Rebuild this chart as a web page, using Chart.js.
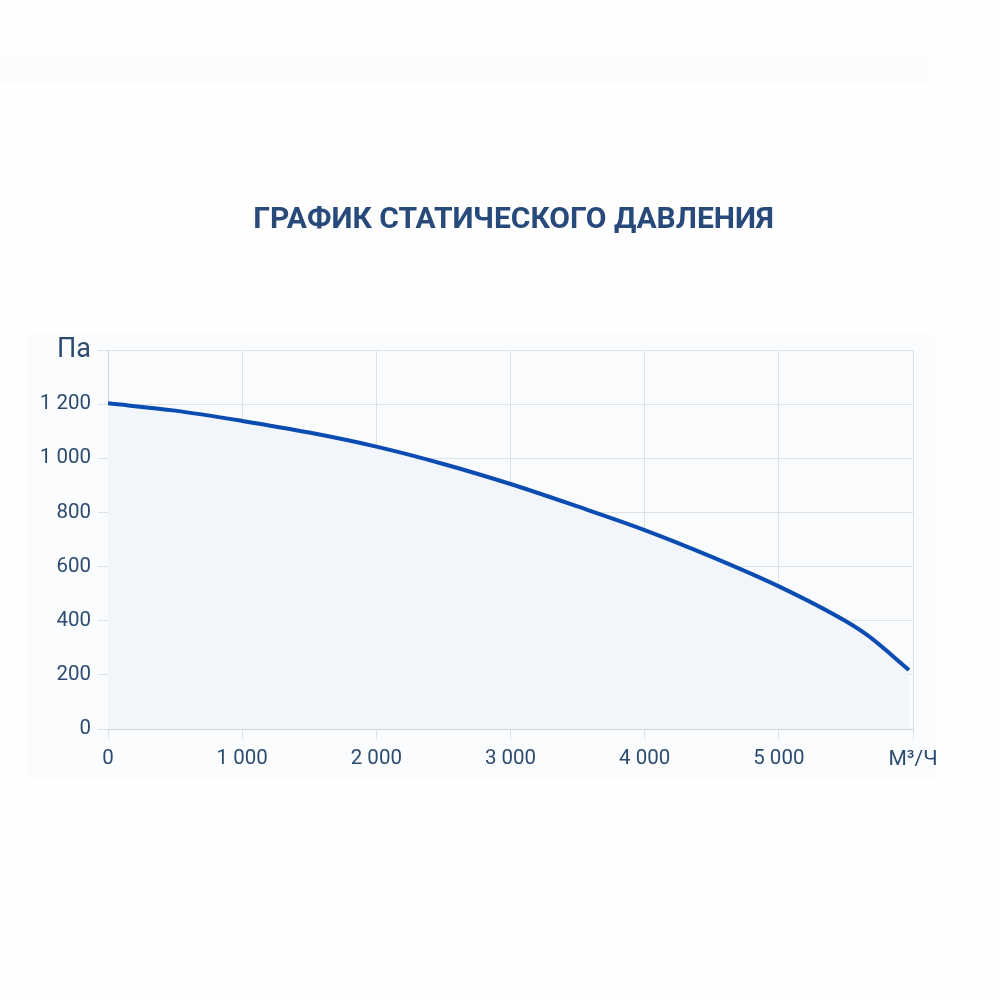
<!DOCTYPE html>
<html><head><meta charset="utf-8">
<script src="https://cdn.jsdelivr.net/npm/chart.js@4/dist/chart.umd.min.js"></script>
<style>
html,body{margin:0;padding:0;background:#fefefe;}
#wrap{position:relative;width:1000px;height:1000px;}
#band{position:absolute;left:0;top:55px;width:930px;height:28px;background:#fbfcfd;}
#block{position:absolute;left:27px;top:333px;width:908px;height:447px;background:#fbfcfd;}
canvas{position:absolute;left:0;top:0;}
</style></head>
<body><div id="wrap"><div id="band"></div><div id="block"></div><canvas id="c" width="1000" height="1000"></canvas></div>
<script>
const title = 'ГРАФИК СТАТИЧЕСКОГО ДАВЛЕНИЯ';
const yUnit = 'Па';
const xUnit = 'М³/Ч';
const flow = [0, 500, 1000, 1500, 2000, 2500, 3000, 3500, 4000, 4500, 5000, 5500, 5670, 5970];
const pressure = [1203, 1176, 1138, 1095, 1043, 979, 905, 822, 735, 636, 527, 398, 343, 218];
const xMax = 6000, yMax = 1400, xStep = 1000, yStep = 200;

const fmt = v => String(v).replace(/\B(?=(\d{3})+(?!\d))/g, ' ');
const points = flow.map((x, i) => ({x, y: pressure[i]}));

const bgPlugin = {
  id: 'bg',
  beforeDraw(chart) {
    const {ctx, chartArea: a} = chart;
    ctx.save();
    ctx.fillStyle = '#fafbfd';
    ctx.fillRect(a.left, a.top, a.right - a.left, a.bottom - a.top);
    ctx.restore();
  },
  afterDraw(chart) {
    const {ctx, chartArea: a} = chart;
    ctx.save();
    ctx.font = 'bold 30px Roboto';
    ctx.fillStyle = '#284a7b';
    ctx.textAlign = 'center';
    ctx.textBaseline = 'middle';
    ctx.fillText(title, (a.left + a.right) / 2 + 3, 220);
    ctx.restore();
  }
};

new Chart(document.getElementById('c'), {
  type: 'line',
  data: { datasets: [{
    data: points,
    borderColor: '#0b4cb2',
    borderWidth: 4,
    backgroundColor: '#f2f5fa',
    fill: 'origin',
    pointRadius: 0,
    cubicInterpolationMode: 'monotone'
  }]},
  options: {
    responsive: false,
    animation: false,
    layout: { padding: { top: 350, right: 87, bottom: 221, left: 0 } },
    plugins: { legend: { display: false }, tooltip: { enabled: false } },
    scales: {
      x: {
        type: 'linear', min: 0, max: xMax,
        afterFit(s) { s.height = 50; },
        grid: { color: '#dde1e8', tickLength: 10, tickColor: '#dde1e8' },
        border: { color: '#cfd4dc' },
        ticks: {
          stepSize: xStep, padding: 8, color: '#2c4b70',
          font: c => ({ family: 'Roboto', size: c.tick && c.tick.value === xMax ? 21 : 20.5 }),
          callback: v => v === xMax ? xUnit : fmt(v)
        }
      },
      y: {
        min: 0, max: yMax,
        afterFit(s) { s.width = 108; },
        grid: { color: '#dde1e8', tickLength: 10, tickColor: '#dde1e8' },
        border: { color: '#cfd4dc' },
        ticks: {
          stepSize: yStep, padding: 7, color: '#2c4b70',
          font: c => ({ family: 'Roboto', size: c.tick && c.tick.value === yMax ? 27 : 20.5 }),
          callback: v => v === yMax ? yUnit : fmt(v)
        }
      }
    }
  },
  plugins: [bgPlugin]
});
</script></body></html>
